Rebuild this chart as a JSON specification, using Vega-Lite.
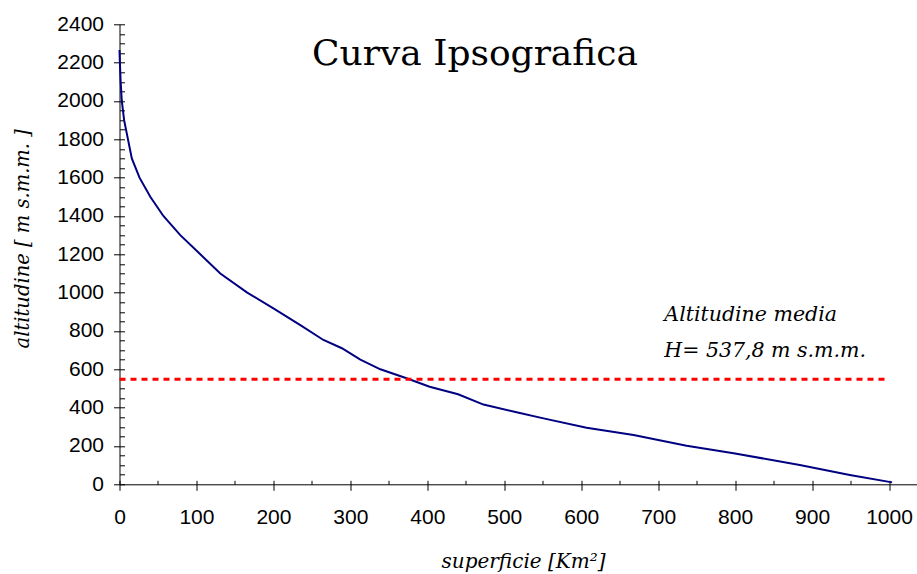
{
  "$schema": "https://vega.github.io/schema/vega-lite/v6.json",
  "autosize": "none",
  "padding": {"left": 119.5, "top": 24.3, "right": 0, "bottom": 89.7},
  "width": 798,
  "height": 460,
  "background": "white",
  "config": {"view": {"stroke": null}},
  "title": {
    "text": "Curva Ipsografica",
    "font": "DejaVu Serif",
    "fontSize": 36,
    "fontWeight": "normal",
    "color": "black",
    "anchor": "start",
    "frame": "group",
    "baseline": "alphabetic",
    "offset": 0,
    "dx": 192.5,
    "dy": 88
  },
  "datasets": {
    "curve": [
      {"sup": 0, "alt": 2266},
      {"sup": 0.5, "alt": 2200},
      {"sup": 1.5, "alt": 2100},
      {"sup": 3, "alt": 2000},
      {"sup": 6, "alt": 1900},
      {"sup": 16, "alt": 1700},
      {"sup": 26, "alt": 1600},
      {"sup": 40, "alt": 1500},
      {"sup": 57, "alt": 1400},
      {"sup": 79, "alt": 1300},
      {"sup": 105, "alt": 1200},
      {"sup": 131, "alt": 1100},
      {"sup": 166, "alt": 1000},
      {"sup": 200, "alt": 918},
      {"sup": 235, "alt": 831},
      {"sup": 265, "alt": 753},
      {"sup": 289, "alt": 710},
      {"sup": 313, "alt": 650},
      {"sup": 339, "alt": 600},
      {"sup": 373, "alt": 553},
      {"sup": 403, "alt": 509},
      {"sup": 440, "alt": 470},
      {"sup": 473, "alt": 416},
      {"sup": 516, "alt": 376},
      {"sup": 551, "alt": 344},
      {"sup": 607, "alt": 295},
      {"sup": 668, "alt": 257},
      {"sup": 737, "alt": 201},
      {"sup": 798, "alt": 162},
      {"sup": 884, "alt": 101},
      {"sup": 949, "alt": 49},
      {"sup": 1004, "alt": 10}
    ],
    "media": [{"x": 0, "x2": 1000, "y": 548}],
    "notes": [
      {"x": 708, "y": 852, "label": "Altitudine media"},
      {"x": 708, "y": 664, "label": "H= 537,8 m s.m.m."}
    ]
  },
  "resolve": {"axis": {"x": "independent", "y": "independent"}},
  "layer": [
    {
      "data": {"name": "curve"},
      "mark": {"type": "line", "color": "#000080", "strokeWidth": 2},
      "encoding": {
        "x": {
          "field": "sup", "type": "quantitative",
          "scale": {"domain": [0, 1037], "nice": false, "zero": false},
          "axis": {
            "orient": "bottom",
            "values": [0, 100, 200, 300, 400, 500, 600, 700, 800, 900, 1000],
            "format": "d",
            "tickSize": 6, "tickColor": "black", "tickWidth": 1,
            "domainColor": "black", "domainWidth": 1,
            "grid": false,
            "labelFont": "Liberation Sans", "labelFontSize": 21, "labelColor": "black",
            "labelPadding": 16, "labelFlush": false, "labelOverlap": false,
            "title": "superficie [Km²]",
            "titleFont": "DejaVu Serif", "titleFontStyle": "italic", "titleFontWeight": "normal",
            "titleFontSize": 20, "titleColor": "black",
            "titleX": 403.5, "titleY": 82.7, "titleAlign": "center", "titleBaseline": "alphabetic"
          }
        },
        "y": {
          "field": "alt", "type": "quantitative",
          "scale": {"domain": [0, 2400], "nice": false, "zero": false},
          "axis": {
            "orient": "left",
            "values": [0, 200, 400, 600, 800, 1000, 1200, 1400, 1600, 1800, 2000, 2200, 2400],
            "format": "d",
            "tickSize": 6, "tickColor": "black", "tickWidth": 1,
            "domainColor": "black", "domainWidth": 1,
            "grid": false,
            "labelFont": "Liberation Sans", "labelFontSize": 21, "labelColor": "black",
            "labelPadding": 10, "labelFlush": false, "labelOverlap": false,
            "title": "altitudine [ m  s.m.m. ]",
            "titleFont": "DejaVu Serif", "titleFontStyle": "italic", "titleFontWeight": "normal",
            "titleFontSize": 19.5, "titleColor": "black",
            "titleX": -91, "titleY": 214, "titleAngle": -90, "titleAlign": "center", "titleBaseline": "alphabetic"
          }
        }
      }
    },
    {
      "data": {"name": "media"},
      "mark": {"type": "rule", "color": "#FF0000", "strokeWidth": 3, "strokeDash": [6, 5]},
      "encoding": {
        "x": {
          "field": "x", "type": "quantitative",
          "scale": {"domain": [0, 1037], "nice": false, "zero": false},
          "axis": {
            "orient": "bottom", "offset": -4,
            "values": [0, 50, 100, 150, 200, 250, 300, 350, 400, 450, 500, 550, 600, 650, 700, 750, 800, 850, 900, 950, 1000],
            "tickSize": 4, "tickColor": "black", "tickWidth": 1,
            "domain": false, "labels": false, "grid": false, "title": null
          }
        },
        "x2": {"field": "x2"},
        "y": {
          "field": "y", "type": "quantitative",
          "scale": {"domain": [0, 2400], "nice": false, "zero": false},
          "axis": {
            "orient": "left", "offset": -5,
            "values": [0, 50, 100, 150, 200, 250, 300, 350, 400, 450, 500, 550, 600, 650, 700, 750, 800, 850, 900, 950, 1000, 1050, 1100, 1150, 1200, 1250, 1300, 1350, 1400, 1450, 1500, 1550, 1600, 1650, 1700, 1750, 1800, 1850, 1900, 1950, 2000, 2050, 2100, 2150, 2200, 2250, 2300, 2350, 2400],
            "tickSize": 5, "tickColor": "black", "tickWidth": 1,
            "domain": false, "labels": false, "grid": false, "title": null
          }
        }
      }
    },
    {
      "data": {"name": "notes"},
      "mark": {"type": "text", "font": "DejaVu Serif", "fontStyle": "italic", "fontSize": 20.5, "color": "black", "align": "left", "baseline": "alphabetic"},
      "encoding": {
        "x": {"field": "x", "type": "quantitative", "scale": {"domain": [0, 1037], "nice": false, "zero": false}, "axis": null},
        "y": {"field": "y", "type": "quantitative", "scale": {"domain": [0, 2400], "nice": false, "zero": false}, "axis": null},
        "text": {"field": "label"}
      }
    }
  ]
}
